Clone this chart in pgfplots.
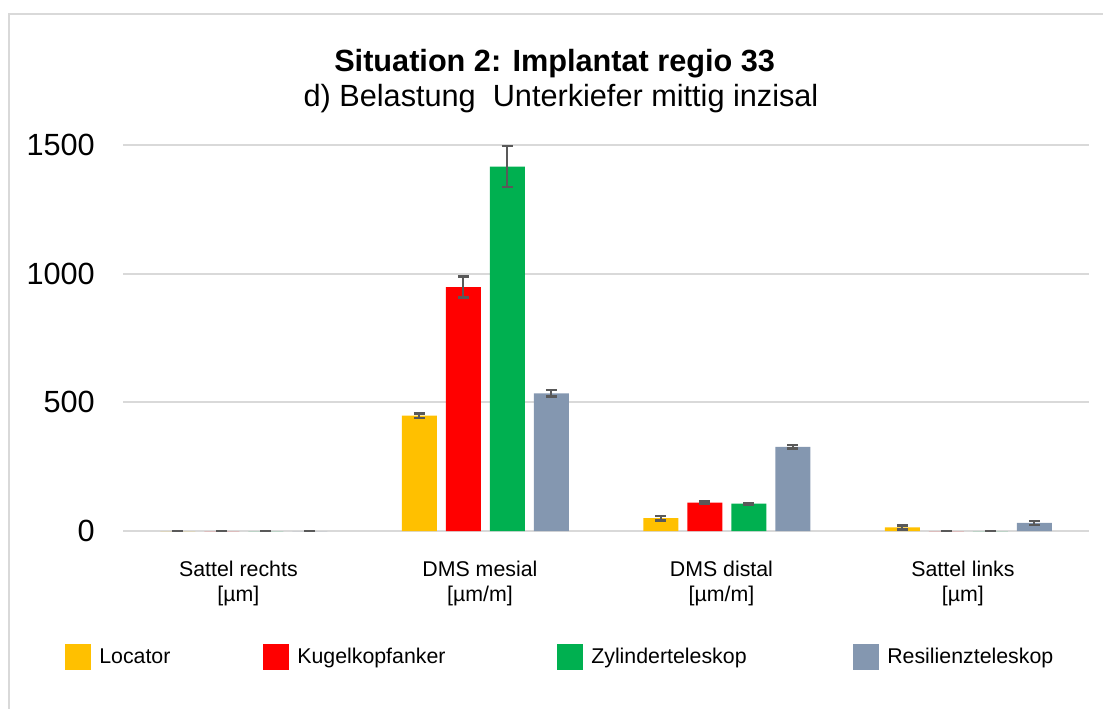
\documentclass[border=0pt]{standalone}
\usepackage{fontspec}
\setmainfont{Liberation Sans}
\usepackage{pgfplots}
\pgfplotsset{compat=1.18}
\definecolor{cLoc}{HTML}{FFC000}
\definecolor{cKug}{HTML}{FF0000}
\definecolor{cZyl}{HTML}{00B050}
\definecolor{cRes}{HTML}{8497B0}
\definecolor{errgray}{HTML}{595959}
\definecolor{gridgray}{HTML}{D9D9D9}

\begin{document}
\begin{tikzpicture}
\useasboundingbox (0,0) rectangle (827.25pt,531pt);
% chart frame (right and bottom edges lie outside the picture)
\draw[gridgray, line width=1.5pt] (6.75pt,-10pt) -- (6.75pt,520.5pt) -- (840pt,520.5pt);
\node[anchor=base, inner sep=0pt, font=\fontsize{23}{27}\selectfont\bfseries] at (416pt,477pt) {Situation 2: Implantat regio 33};
\node[anchor=base, inner sep=0pt, font=\fontsize{23}{27}\selectfont] at (420.75pt,451pt) {d) Belastung~ Unterkiefer mittig inzisal};
\begin{axis}[
  at={(92.25pt,132.75pt)}, anchor=south west,
  scale only axis, width=724.5pt, height=289.5pt,
  ybar=6.75pt, bar width=26.25pt,
  xmin=-0.5, xmax=3.5, ymin=0, ymax=1500,
  xtick={0,1,2,3},
  xticklabels={{Sattel rechts\\{}[µm]},{DMS mesial\\{}[µm/m]},{DMS distal\\{}[µm/m]},{Sattel links\\{}[µm]}},
  ytick={0,500,1000,1500},
  axis line style={draw=none},
  major tick length=0pt,
  ymajorgrids, grid style={gridgray, line width=1.3pt},
  clip=false,
  /pgf/number format/assume math mode=true,
  /pgf/number format/1000 sep={},
  yticklabel style={font=\fontsize{23}{27}\selectfont, inner sep=0pt, xshift=-21pt},
  xticklabel style={font=\fontsize{16}{18.75}\selectfont, align=center, inner sep=0pt, yshift=-22pt, xshift=-4pt},
  legend columns=4,
  legend style={at={(-0.060,-0.3264)}, anchor=west, draw=none, fill=none,
    inner sep=0pt, font=\fontsize{16}{19}\selectfont,
    nodes={inner sep=0pt}},
  legend image code/.code={\fill[#1,draw=none] (0pt,-9.75pt) rectangle (19.5pt,9.75pt); \path (25.5pt,0pt);},
  error bars/y dir=both, error bars/y explicit,
  error bars/error bar style={errgray, line width=1.5pt},
  error bars/error mark options={errgray, line width=1.8pt, mark size=4.1pt, rotate=90},
]
\addplot[fill=cLoc, draw=none] coordinates {(0,0) +- (0,1) (1,448) +- (0,8) (2,50) +- (0,9) (3,14) +- (0,8)};
\addplot[fill=cKug, draw=none] coordinates {(0,0) +- (0,1) (1,948) +- (0,41) (2,110) +- (0,4) (3,0) +- (0,1)};
\addplot[fill=cZyl, draw=none] coordinates {(0,0) +- (0,1) (1,1416) +- (0,80) (2,106) +- (0,3) (3,0) +- (0,1)};
\addplot[fill=cRes, draw=none] coordinates {(0,0) +- (0,1) (1,535) +- (0,13) (2,327) +- (0,7) (3,32) +- (0,8)};
\legend{\makebox[123pt][l]{Locator},\makebox[195pt][l]{Kugelkopfanker},\makebox[196.5pt][l]{Zylinderteleskop},Resilienzteleskop}
\end{axis}
\end{tikzpicture}
\end{document}
